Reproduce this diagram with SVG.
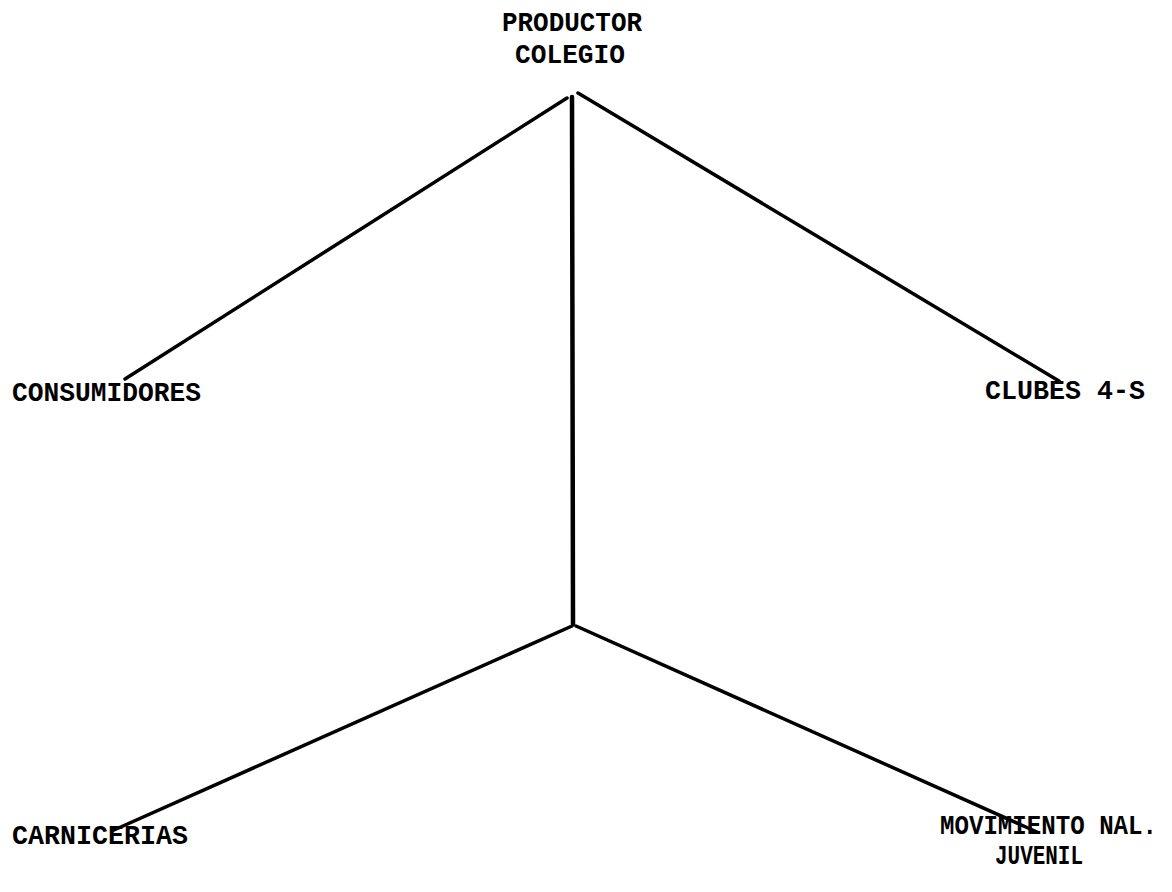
<svg xmlns="http://www.w3.org/2000/svg" width="1172" height="892" viewBox="0 0 1172 892">
<style>
.t{font-family:"Liberation Mono","Courier New",monospace;font-size:27px;font-weight:bold;fill:#000;}
.c line{stroke:#000;stroke-width:3.5;stroke-linecap:round;}
</style>
<rect width="1172" height="892" fill="#fff"/>
<g class="c" id="connectors">
<line x1="567" y1="98" x2="125" y2="379"/>
<line x1="578" y1="93" x2="1059" y2="381"/>
<line x1="572" y1="97" x2="573" y2="624" style="stroke-width:4.5"/>
<line x1="572" y1="626" x2="114" y2="830"/>
<line x1="576" y1="626" x2="1037" y2="832"/>
</g>
<g id="productor"><text class="t" x="502" y="31" textLength="140" lengthAdjust="spacingAndGlyphs">PRODUCTOR</text><text class="t" x="515" y="63" textLength="110" lengthAdjust="spacingAndGlyphs">COLEGIO</text></g>
<g id="consumidores"><text class="t" x="12" y="401" textLength="189" lengthAdjust="spacingAndGlyphs">CONSUMIDORES</text></g>
<g id="clubes"><text class="t" x="985" y="399" textLength="160" lengthAdjust="spacingAndGlyphs">CLUBES 4-S</text></g>
<g id="carnicerias"><text class="t" x="12" y="844" textLength="176" lengthAdjust="spacingAndGlyphs">CARNICERIAS</text></g>
<g id="movimiento"><text class="t" x="940" y="834" textLength="217" lengthAdjust="spacingAndGlyphs">MOVIMIENTO NAL.</text><text class="t" x="995" y="864" textLength="88" lengthAdjust="spacingAndGlyphs">JUVENIL</text></g>
</svg>
